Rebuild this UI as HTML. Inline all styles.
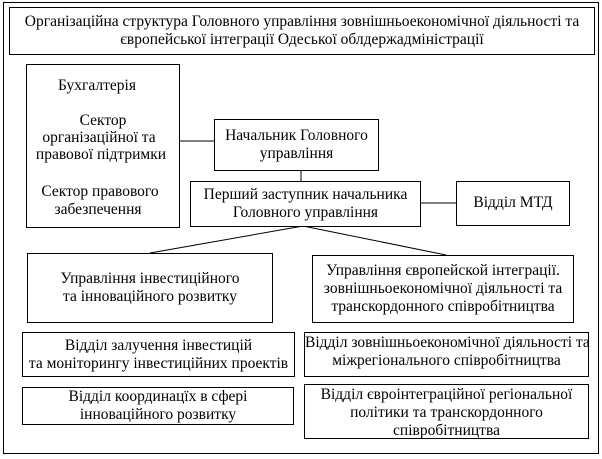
<!DOCTYPE html>
<html><head><meta charset="utf-8"><style>
html,body{margin:0;padding:0;background:#fff;}
body{width:602px;height:459px;position:relative;overflow:hidden;font-family:"Liberation Serif","Times New Roman","DejaVu Serif",serif;font-size:15.5px;color:#000;line-height:18px;}
.b{position:absolute;border:1px solid #000;box-sizing:border-box;text-align:center;background:#fff;white-space:nowrap;}
.t{position:absolute;white-space:nowrap;width:154px;left:26px;text-align:center;}
svg{position:absolute;left:0;top:0;}
</style></head><body>
<div class="b" style="left:3px;top:2px;width:596px;height:452px;"></div>
<svg width="602" height="459"><g stroke="#000" stroke-width="1" fill="none">
<line x1="179" y1="141" x2="214" y2="141"/>
<line x1="301" y1="170" x2="301" y2="181"/>
<line x1="420" y1="203" x2="456" y2="203"/>
<line x1="303" y1="226" x2="150" y2="253"/>
<line x1="303" y1="226" x2="446" y2="255"/>
</g></svg>
<div class="b" style="left:9px;top:7px;width:586px;height:48px;padding-top:5px;">Організаційна структура Головного управління зовнішньоекономічної діяльності та<br>європейської інтеграції Одеської облдержадміністрації</div>
<div class="b" style="left:26px;top:64px;width:154px;height:164px;"></div>
<div class="t" style="top:77px;left:20px;">Бухгалтерія</div>
<div class="t" style="top:112px;">Сектор</div>
<div class="t" style="top:129px;left:22px;">організаційної та</div>
<div class="t" style="top:146px;left:24px;">правової підтримки</div>
<div class="t" style="top:183px;left:23px;">Сектор правового</div>
<div class="t" style="top:201px;left:21px;">забезпечення</div>
<div class="b" style="left:214px;top:119px;width:165px;height:52px;padding-top:7px;">Начальник Головного<br>управління</div>
<div class="b" style="left:190px;top:181px;width:231px;height:46px;padding-top:4px;">Перший заступник начальника<br>Головного управління</div>
<div class="b" style="left:456px;top:181px;width:114px;height:45px;padding-top:12px;">Відділ МТД</div>
<div class="b" style="left:27px;top:253px;width:246px;height:70px;padding-top:16px;">Управління інвестиційного<br>та інноваційного розвитку</div>
<div class="b" style="left:312px;top:255px;width:262px;height:68px;padding-top:6px;">Управління європейской інтеграції.<br>зовнішньоекономічної діяльності та<br>транскордонного співробітництва</div>
<div class="b" style="left:22px;top:332px;width:273px;height:45px;padding-top:4px;">Відділ залучення інвестицій<br>та моніторингу інвестиційних проектів</div>
<div class="b" style="left:304px;top:332px;width:285px;height:45px;padding-top:1px;">Відділ зовнішньоекономічної діяльності та<br>міжрегіонального співробітництва</div>
<div class="b" style="left:22px;top:387px;width:272px;height:38px;padding-top:0px;">Відділ координацїх в сфері<br>інноваційного розвитку</div>
<div class="b" style="left:304px;top:384px;width:285px;height:55px;padding-top:1px;">Відділ євроінтеграційної регіональної<br>політики та транскордонного<br>співробітництва</div>
</body></html>
